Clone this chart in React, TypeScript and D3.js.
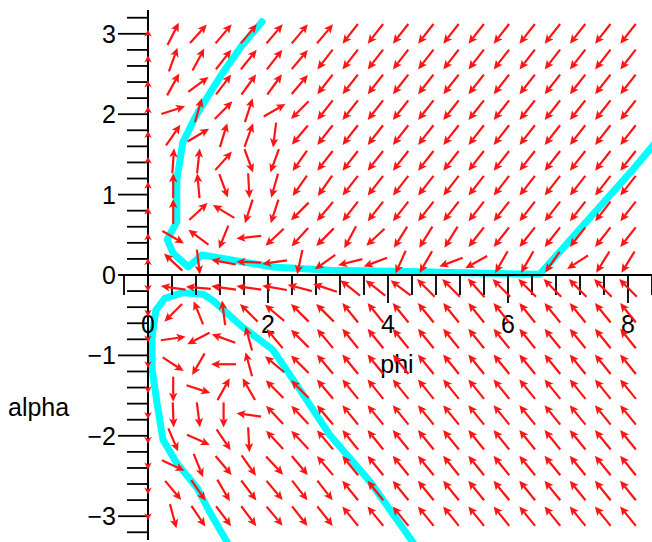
import React from "react";
import * as d3 from "d3";

// ---- data ----
const phiTicks = [0, 2, 4, 6, 8];
const alphaTicks = [-3, -2, -1, 0, 1, 2, 3];
const phiLabel = "phi";
const alphaLabel = "alpha";

// grid where the direction arrows sit
const phiGrid = [0, 0.42, 0.84, 1.26, 1.68, 2.11, 2.53, 2.95, 3.37, 3.79, 4.21, 4.63, 5.05, 5.47, 5.89, 6.32, 6.74, 7.16, 7.58, 8.0];
const alphaGrid = [3.0, 2.68, 2.37, 2.05, 1.74, 1.42, 1.11, 0.79, 0.47, 0.16, -0.16, -0.47, -0.79, -1.11, -1.42, -1.74, -2.05, -2.37, -2.68, -3.0];

// arrow directions (degrees on screen, 0 = right, 90 = up), one row per alpha grid value
const U = -128;
const L = 129;
const arrowAngles = [
  [90, 63, 48, 50, 50, 50, 50, 50, U, U, U, U, U, U, U, U, U, U, U, U],
  [90, 70, 62, 52, 51, 52, 50, U, U, U, U, U, U, U, U, U, U, U, U, U],
  [90, 61, 36, 53, 54, 54, 50, U, U, U, U, U, U, U, U, U, U, U, U, U],
  [90, 18, 74, 45, 72, 30, -135, U, U, U, U, U, U, U, U, U, U, U, U, U],
  [90, 55, 31, 73, 70, -97, -130, U, U, U, U, U, U, U, U, U, U, U, U, U],
  [90, 86, 84, 48, -70, -110, -125, U, U, U, U, U, U, U, U, U, U, U, U, U],
  [90, 90, 95, -70, -87, -106, -125, -125, U, U, U, U, U, U, U, U, U, U, U, U],
  [90, 90, 43, 149, -108, -108, -135, -130, U, U, U, U, U, U, U, U, U, U, U, U],
  [90, -30, 143, -112, -174, -137, -132, -135, -118, -137, -122, -122, -122, U, U, U, U, U, U, U],
  [90, 137, -83, 169, 178, -172, -102, -145, -166, -159, -114, -120, -159, -151, -120, -120, -125, -147, -122, -122],
  [-90, 172, 175, 172, 172, 170, 165, 162, 142, 142, 143, 135, 135, 132, 135, 135, 135, 135, 135, 135],
  [-90, -135, 112, 97, 135, 140, 135, 135, L, L, L, L, L, L, L, L, L, L, L, L],
  [-90, 8, -153, 160, 105, 130, 135, 130, L, L, L, L, L, L, L, L, L, L, L, L],
  [-90, -33, -120, 180, 105, 140, 135, 130, L, L, L, L, L, L, L, L, L, L, L, L],
  [-90, -90, -18, 61, 120, 135, 135, 130, L, L, L, L, L, L, L, L, L, L, L, L],
  [-90, -88, -83, -90, 172, 133, 133, 130, L, L, L, L, L, L, L, L, L, L, L, L],
  [-90, -67, -24, -56, -87, 133, 133, 130, L, L, L, L, L, L, L, L, L, L, L, L],
  [-90, -25, -68, -50, -55, -47, -50, 130, L, L, L, L, L, L, L, L, L, L, L, L],
  [-90, -50, -55, -60, -53, -50, -52, -52, L, L, L, L, L, L, L, L, L, L, L, L],
  [-90, -75, -56, -53, -53, -50, -52, -52, L, L, L, L, L, L, L, L, L, L, L, L],
];

// solution curves (phi, alpha)
const curve1 = [
  [1.9, 3.15], [1.55, 2.84], [1.25, 2.52], [1.02, 2.25], [0.8, 1.98], [0.58, 1.65], [0.48, 1.18],
  [0.48, 0.66], [0.32, 0.44], [0.42, 0.27], [0.67, 0.1], [0.9, 0.25], [1.53, 0.17],
  [2.08, 0.1], [3.03, 0.06], [4.53, 0.04], [6.2, 0.012], [6.53, 0.01], [8.08, 1.31], [8.45, 1.64],
];
const curve2 = [
  [1.34, -3.35], [1.03, -2.95], [0.82, -2.65], [0.48, -2.34], [0.25, -2.05], [0.15, -1.59],
  [0.07, -1.18], [0.07, -0.75], [0.13, -0.44], [0.28, -0.29], [0.58, -0.22], [0.92, -0.24],
  [1.07, -0.31], [1.58, -0.65], [2.08, -0.93], [2.48, -1.37], [3.03, -1.99], [3.7, -2.57], [4.44, -3.35],
];

const W = 652;
const H = 542;

export default function App() {
  const x = d3.scaleLinear().domain([0, 8]).range([148, 628]);
  const y = d3.scaleLinear().domain([-3, 3]).range([516.2, 33.8]);

  const xMinorTicks = d3.range(-0.4, 8.41, 0.4);
  const yMinorTicks = d3.range(-3.2, 3.21, 0.2);

  const line = d3
    .line<number[]>()
    .x((d) => x(d[0]))
    .y((d) => y(d[1]));

  const red = "#ff1414";
  const arrows: React.ReactNode[] = [];
  alphaGrid.forEach((a, r) => {
    phiGrid.forEach((p, c) => {
      const ang = (arrowAngles[r][c] * Math.PI) / 180;
      const len = c === 0 ? 8 : 25;
      const cx = x(p);
      const cy = y(a);
      const ux = Math.cos(ang);
      const uy = -Math.sin(ang);
      const hx = cx + (ux * len) / 2;
      const hy = cy + (uy * len) / 2;
      const tx = cx - (ux * len) / 2;
      const ty = cy - (uy * len) / 2;
      const hl = c === 0 ? 7 : 9;
      const hw = c === 0 ? 3.8 : 4.2;
      const bx = hx - ux * hl;
      const by = hy - uy * hl;
      const px = -uy;
      const py = ux;
      arrows.push(
        <g key={`a${r}-${c}`}>
          {c !== 0 && (
            <line x1={tx} y1={ty} x2={bx + ux * 2} y2={by + uy * 2} stroke={red} strokeWidth={2.2} />
          )}
          <polygon
            points={`${hx},${hy} ${bx + px * hw},${by + py * hw} ${bx + ux * 2},${by + uy * 2} ${bx - px * hw},${by - py * hw}`}
            fill={red}
          />
        </g>
      );
    });
  });

  const font = "'Liberation Sans', Arial, Helvetica, sans-serif";

  return (
    <svg
      width={W}
      height={H}
      style={{ position: "absolute", left: 0, top: 0, background: "#fff" }}
      fontFamily={font}
    >
      <rect x={0} y={0} width={W} height={H} fill="#fff" />
      {/* solution curves */}
      <path d={line(curve1) || ""} fill="none" stroke="#00ffff" strokeWidth={7} strokeLinejoin="round" strokeLinecap="round" />
      <path d={line(curve2) || ""} fill="none" stroke="#00ffff" strokeWidth={7} strokeLinejoin="round" strokeLinecap="round" />

      {/* x axis */}
      <line x1={120} x2={652} y1={y(0)} y2={y(0)} stroke="#000" strokeWidth={2} />
      {xMinorTicks.map((t) => {
        const isMajor = Math.abs(t - Math.round(t)) < 1e-6 && Math.round(t) % 2 === 0 && Math.round(t) !== 0;
        return (
          <line key={`xt${t.toFixed(2)}`} x1={x(t)} x2={x(t)} y1={y(0)} y2={y(0) + (isMajor ? 28 : 20)} stroke="#000" strokeWidth={1.8} />
        );
      })}
      {phiTicks.map((t) => (
        <text key={`xl${t}`} x={x(t)} y={y(0) + 58} textAnchor="middle" fontSize={25}>
          {t}
        </text>
      ))}
      <text x={397} y={373} textAnchor="middle" fontSize={25}>
        {phiLabel}
      </text>

      {/* y axis */}
      <line x1={148} x2={148} y1={10} y2={540} stroke="#000" strokeWidth={2} />
      {yMinorTicks.map((t) => {
        const isMajor = Math.abs(t - Math.round(t)) < 1e-6;
        return (
          <line key={`yt${t.toFixed(2)}`} x1={148 - (isMajor ? 30 : 21)} x2={148} y1={y(t)} y2={y(t)} stroke="#000" strokeWidth={1.8} />
        );
      })}
      {alphaTicks.map((t) => (
        <text key={`yl${t}`} x={116} y={y(t) + 9} textAnchor="end" fontSize={25}>
          {t < 0 ? `\u2212${-t}` : `${t}`}
        </text>
      ))}
      <text x={8} y={416} fontSize={25}>
        {alphaLabel}
      </text>

      {arrows}
    </svg>
  );
}
